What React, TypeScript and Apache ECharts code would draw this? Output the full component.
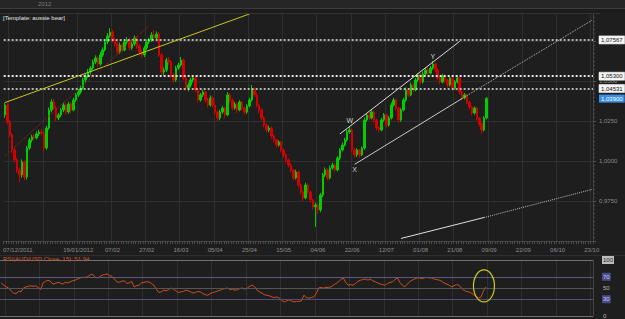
import React, { useEffect, useRef } from "react";
import * as echarts from "echarts";

// ---------- data ----------
const SLOT_COUNT = 241; // trading-day slots on the time axis
const FIRST_TICK = 2;
const TICK_EVERY = 14;
const dateTickLabels = [
  "07/12/2011", "", "19/01/2012", "07/02", "27/02", "16/03", "05/04", "25/04", "15/05",
  "04/06", "22/06", "12/07", "01/08", "21/08", "09/09", "22/09", "06/10", "23/10",
];

// [open, close, low, high]
const ohlc: number[][] = [
  [1.0288, 1.0350, 1.0270, 1.0365], [1.0350, 1.0244, 1.0230, 1.0362], [1.0244, 1.0163, 1.0150, 1.0256],
  [1.0163, 1.0069, 1.0050, 1.0175], [1.0069, 1.0006, 0.9990, 1.0085], [1.0006, 0.9944, 0.9925, 1.0020],
  [0.9944, 0.9913, 0.9869, 0.9960], [0.9913, 0.9994, 0.9895, 1.0010], [0.9994, 0.9900, 0.9880, 1.0005],
  [0.9900, 1.0081, 0.9885, 1.0095], [1.0081, 1.0131, 1.0070, 1.0145], [1.0131, 1.0150, 1.0115, 1.0165],
  [1.0150, 1.0144, 1.0130, 1.0170], [1.0144, 1.0169, 1.0135, 1.0185], [1.0169, 1.0181, 1.0155, 1.0195],
  [1.0181, 1.0175, 1.0160, 1.0200], [1.0175, 1.0081, 1.0060, 1.0190], [1.0081, 1.0206, 1.0070, 1.0220],
  [1.0206, 1.0319, 1.0195, 1.0335], [1.0319, 1.0369, 1.0305, 1.0385], [1.0369, 1.0331, 1.0320, 1.0390],
  [1.0331, 1.0269, 1.0250, 1.0345], [1.0269, 1.0288, 1.0255, 1.0300], [1.0288, 1.0319, 1.0275, 1.0330],
  [1.0319, 1.0350, 1.0305, 1.0365], [1.0350, 1.0306, 1.0290, 1.0362], [1.0306, 1.0356, 1.0295, 1.0370],
  [1.0356, 1.0319, 1.0300, 1.0368], [1.0319, 1.0381, 1.0310, 1.0395], [1.0381, 1.0413, 1.0370, 1.0425],
  [1.0413, 1.0431, 1.0400, 1.0450], [1.0431, 1.0456, 1.0420, 1.0470], [1.0456, 1.0506, 1.0445, 1.0520],
  [1.0506, 1.0531, 1.0490, 1.0545], [1.0531, 1.0556, 1.0520, 1.0575], [1.0556, 1.0581, 1.0540, 1.0595],
  [1.0581, 1.0619, 1.0570, 1.0635], [1.0619, 1.0644, 1.0605, 1.0660], [1.0644, 1.0606, 1.0590, 1.0655],
  [1.0606, 1.0663, 1.0595, 1.0680], [1.0663, 1.0694, 1.0650, 1.0710], [1.0694, 1.0744, 1.0685, 1.0760],
  [1.0744, 1.0781, 1.0730, 1.0800], [1.0781, 1.0806, 1.0770, 1.0831], [1.0806, 1.0756, 1.0740, 1.0820],
  [1.0756, 1.0731, 1.0715, 1.0770], [1.0731, 1.0681, 1.0665, 1.0745], [1.0681, 1.0725, 1.0670, 1.0740],
  [1.0725, 1.0694, 1.0680, 1.0735], [1.0694, 1.0744, 1.0685, 1.0760], [1.0744, 1.0756, 1.0730, 1.0775],
  [1.0756, 1.0706, 1.0690, 1.0770], [1.0706, 1.0731, 1.0695, 1.0745], [1.0731, 1.0769, 1.0720, 1.0785],
  [1.0769, 1.0719, 1.0700, 1.0780], [1.0719, 1.0681, 1.0665, 1.0730], [1.0681, 1.0663, 1.0645, 1.0695],
  [1.0663, 1.0706, 1.0650, 1.0720], [1.0706, 1.0744, 1.0695, 1.0760], [1.0744, 1.0756, 1.0730, 1.0770],
  [1.0756, 1.0788, 1.0745, 1.0805], [1.0788, 1.0769, 1.0755, 1.0819], [1.0769, 1.0794, 1.0760, 1.0810],
  [1.0794, 1.0663, 1.0650, 1.0805], [1.0663, 1.0556, 1.0540, 1.0675], [1.0556, 1.0569, 1.0535, 1.0585],
  [1.0569, 1.0631, 1.0555, 1.0645], [1.0631, 1.0619, 1.0600, 1.0650], [1.0619, 1.0538, 1.0520, 1.0630],
  [1.0538, 1.0506, 1.0490, 1.0550], [1.0506, 1.0581, 1.0495, 1.0595], [1.0581, 1.0600, 1.0570, 1.0615],
  [1.0600, 1.0631, 1.0590, 1.0650], [1.0631, 1.0519, 1.0505, 1.0640], [1.0519, 1.0456, 1.0440, 1.0530],
  [1.0456, 1.0475, 1.0435, 1.0490], [1.0475, 1.0506, 1.0460, 1.0520], [1.0506, 1.0519, 1.0490, 1.0535],
  [1.0519, 1.0444, 1.0430, 1.0530], [1.0444, 1.0381, 1.0365, 1.0455], [1.0381, 1.0413, 1.0370, 1.0425],
  [1.0413, 1.0431, 1.0400, 1.0445], [1.0431, 1.0381, 1.0365, 1.0440], [1.0381, 1.0350, 1.0335, 1.0395],
  [1.0350, 1.0394, 1.0340, 1.0410], [1.0394, 1.0350, 1.0335, 1.0405], [1.0350, 1.0306, 1.0290, 1.0360],
  [1.0306, 1.0269, 1.0250, 1.0315], [1.0269, 1.0306, 1.0255, 1.0320], [1.0306, 1.0331, 1.0295, 1.0345],
  [1.0331, 1.0288, 1.0270, 1.0340], [1.0288, 1.0413, 1.0280, 1.0430], [1.0413, 1.0381, 1.0365, 1.0425],
  [1.0381, 1.0331, 1.0315, 1.0390], [1.0331, 1.0356, 1.0320, 1.0370], [1.0356, 1.0319, 1.0300, 1.0365],
  [1.0319, 1.0369, 1.0310, 1.0380], [1.0369, 1.0331, 1.0315, 1.0375], [1.0331, 1.0306, 1.0290, 1.0340],
  [1.0306, 1.0344, 1.0295, 1.0355], [1.0344, 1.0381, 1.0335, 1.0395], [1.0381, 1.0444, 1.0370, 1.0475],
  [1.0444, 1.0413, 1.0400, 1.0460], [1.0413, 1.0350, 1.0335, 1.0425], [1.0350, 1.0319, 1.0300, 1.0360],
  [1.0319, 1.0269, 1.0255, 1.0330], [1.0269, 1.0225, 1.0210, 1.0280], [1.0225, 1.0194, 1.0180, 1.0235],
  [1.0194, 1.0206, 1.0180, 1.0220], [1.0206, 1.0156, 1.0140, 1.0215], [1.0156, 1.0131, 1.0115, 1.0165],
  [1.0131, 1.0100, 1.0085, 1.0140], [1.0100, 1.0119, 1.0090, 1.0130], [1.0119, 1.0069, 1.0055, 1.0125],
  [1.0069, 1.0038, 1.0020, 1.0080], [1.0038, 1.0006, 0.9990, 1.0045], [1.0006, 0.9975, 0.9960, 1.0015],
  [0.9975, 0.9944, 0.9930, 0.9985], [0.9944, 0.9894, 0.9880, 0.9950], [0.9894, 0.9931, 0.9885, 0.9945],
  [0.9931, 0.9850, 0.9835, 0.9940], [0.9850, 0.9806, 0.9790, 0.9860], [0.9806, 0.9769, 0.9750, 0.9815],
  [0.9769, 0.9850, 0.9760, 0.9865], [0.9850, 0.9806, 0.9795, 0.9860], [0.9806, 0.9756, 0.9740, 0.9815],
  [0.9756, 0.9713, 0.9695, 0.9765], [0.9713, 0.9725, 0.9588, 0.9740], [0.9725, 0.9694, 0.9670, 0.9735],
  [0.9694, 0.9788, 0.9680, 0.9800], [0.9788, 0.9913, 0.9775, 0.9925], [0.9913, 0.9944, 0.9900, 0.9960],
  [0.9944, 0.9894, 0.9880, 0.9955], [0.9894, 0.9956, 0.9885, 0.9970], [0.9956, 0.9975, 0.9945, 0.9990],
  [0.9975, 0.9944, 0.9930, 0.9985], [0.9944, 1.0019, 0.9935, 1.0030], [1.0019, 1.0069, 1.0005, 1.0080],
  [1.0069, 1.0100, 1.0060, 1.0115], [1.0100, 1.0131, 1.0090, 1.0145], [1.0131, 1.0181, 1.0120, 1.0195],
  [1.0181, 1.0194, 1.0170, 1.0215], [1.0194, 1.0069, 1.0055, 1.0205], [1.0069, 1.0038, 1.0020, 1.0080],
  [1.0038, 1.0069, 1.0025, 1.0080], [1.0069, 1.0038, 1.0020, 1.0075], [1.0038, 1.0081, 1.0030, 1.0090],
  [1.0081, 1.0256, 1.0070, 1.0270], [1.0256, 1.0288, 1.0245, 1.0300], [1.0288, 1.0269, 1.0255, 1.0305],
  [1.0269, 1.0306, 1.0260, 1.0320], [1.0306, 1.0256, 1.0240, 1.0315], [1.0256, 1.0206, 1.0190, 1.0265],
  [1.0206, 1.0194, 1.0180, 1.0215], [1.0194, 1.0256, 1.0185, 1.0270], [1.0256, 1.0288, 1.0245, 1.0300],
  [1.0288, 1.0225, 1.0210, 1.0295], [1.0225, 1.0269, 1.0215, 1.0280], [1.0269, 1.0350, 1.0260, 1.0365],
  [1.0350, 1.0381, 1.0340, 1.0395], [1.0381, 1.0331, 1.0315, 1.0390], [1.0331, 1.0256, 1.0240, 1.0340],
  [1.0256, 1.0319, 1.0245, 1.0330], [1.0319, 1.0381, 1.0310, 1.0395], [1.0381, 1.0444, 1.0370, 1.0460],
  [1.0444, 1.0413, 1.0400, 1.0455], [1.0413, 1.0475, 1.0405, 1.0490], [1.0475, 1.0444, 1.0430, 1.0485],
  [1.0444, 1.0506, 1.0435, 1.0520], [1.0506, 1.0538, 1.0495, 1.0550], [1.0538, 1.0494, 1.0480, 1.0550],
  [1.0494, 1.0544, 1.0485, 1.0560], [1.0544, 1.0569, 1.0535, 1.0585], [1.0569, 1.0550, 1.0540, 1.0590],
  [1.0550, 1.0581, 1.0540, 1.0595], [1.0581, 1.0606, 1.0570, 1.0625], [1.0606, 1.0569, 1.0555, 1.0615],
  [1.0569, 1.0519, 1.0505, 1.0580], [1.0519, 1.0494, 1.0480, 1.0530], [1.0494, 1.0531, 1.0485, 1.0545],
  [1.0531, 1.0506, 1.0490, 1.0540], [1.0506, 1.0475, 1.0460, 1.0515], [1.0475, 1.0519, 1.0465, 1.0530],
  [1.0519, 1.0456, 1.0440, 1.0525], [1.0456, 1.0494, 1.0445, 1.0505], [1.0494, 1.0519, 1.0485, 1.0530],
  [1.0519, 1.0431, 1.0415, 1.0525], [1.0431, 1.0394, 1.0380, 1.0440], [1.0394, 1.0413, 1.0385, 1.0425],
  [1.0413, 1.0369, 1.0355, 1.0420], [1.0369, 1.0338, 1.0320, 1.0375], [1.0338, 1.0300, 1.0285, 1.0345],
  [1.0300, 1.0331, 1.0290, 1.0340], [1.0331, 1.0269, 1.0255, 1.0335], [1.0269, 1.0231, 1.0215, 1.0275],
  [1.0231, 1.0194, 1.0169, 1.0240], [1.0194, 1.0269, 1.0185, 1.0280], [1.0269, 1.0390, 1.0260, 1.0400],
];

const rsi: number[] = [
  59, 55, 52, 50, 45, 41, 40, 44, 43, 50, 52, 53, 54, 53, 54, 51, 47, 59, 62, 64,
  62, 57, 58, 60, 59, 57, 60, 59, 61, 63, 64, 66, 68, 69, 69, 70, 73, 75, 70, 68,
  70, 73, 74, 75, 72, 71, 66, 61, 60, 62, 63, 58, 59, 62, 52, 54, 55, 59, 60, 61,
  61, 58, 55, 48, 42, 43, 46, 45, 47, 50, 48, 45, 42, 43, 44, 46, 45, 43, 41, 42,
  44, 43, 40, 38, 37, 40, 42, 43, 45, 46, 48, 49, 50, 47, 48, 46, 47, 49, 50, 48,
  50, 53, 55, 52, 46, 43, 41, 38, 37, 36, 34, 33, 34, 32, 28, 25, 27, 29, 27, 25,
  26, 26, 27, 37, 33, 32, 33, 34, 40, 50, 51, 50, 51, 51, 52, 55, 58, 61, 65, 68,
  60, 55, 56, 55, 58, 62, 64, 65, 66, 64, 66, 63, 61, 59, 57, 56, 55, 58, 60, 61,
  65, 68, 60, 55, 52, 57, 61, 64, 66, 68, 68, 67, 68, 69, 68, 68, 66, 65, 64, 62,
  59, 57, 55, 52, 54, 56, 55, 50, 46, 44, 43, 41, 38, 35, 32, 34, 45, 51.94,
];

const hLevels = [1.07567, 1.053, 1.04531];
const rsiLevels = [100, 70, 50, 30, 0];
const rsiLevelColors = ["#6e6e6e", "#5a5a7e", "#555555", "#4e4e78", "#6e6e6e"];

// trend lines: [startIndex, startPrice], [endIndex, endPrice]
const trendLines = [
  { a: [0, 1.0365], b: [100, 1.0919], color: "#c8c81e", type: "solid", width: 1 },
  { a: [0, 1.0032], b: [59, 1.0847], color: "#a81c1c", type: "dotted", width: 1 },
  { a: [137, 1.0169], b: [186, 1.0748], color: "#d8d8d8", type: "solid", width: 1 },
  { a: [143, 0.9979], b: [187, 1.0391], color: "#c8c8c8", type: "solid", width: 1 },
  { a: [187, 1.0391], b: [240, 1.0879], color: "#bdbdbd", type: "dotted", width: 1 },
  { a: [162, 0.9516], b: [196, 0.9647], color: "#e0e0e0", type: "solid", width: 1 },
  { a: [196, 0.9647], b: [240, 0.9822], color: "#bdbdbd", type: "dotted", width: 1 },
];

const waveLabels = [
  { name: "W", at: [141, 1.0256] },
  { name: "X", at: [143, 0.9944] },
  { name: "Y", at: [175, 1.0656] },
];

const FONT = "Liberation Sans, Arial, sans-serif";
const fmt5 = (v: number) => v.toFixed(5).replace(".", ",");
const fmt4 = (v: number) => v.toFixed(4).replace(".", ",");

export default function App() {
  const ref = useRef<HTMLDivElement>(null);
  useEffect(() => {
    document.body.style.margin = "0";
    document.body.style.background = "#1e1e1e";
    const chart = echarts.init(ref.current!, undefined, { renderer: "svg" });
    const cats = Array.from({ length: SLOT_COUNT }, (_, i) => String(i));
    const isTick = (i: number) => i >= FIRST_TICK && (i - FIRST_TICK) % TICK_EVERY === 0;
    const lastClose = ohlc[ohlc.length - 1][1];
    const lastRsi = rsi[rsi.length - 1];

    const priceMarkLines: any[] = [];
    hLevels.forEach((v, k) => {
      priceMarkLines.push({
        yAxis: v,
        lineStyle: { color: "#e6e6e6", type: [2, 2], width: k === 1 ? 2 : 1.5 },
        label: {
          show: true, position: "end", distance: 6, formatter: () => fmt5(v),
          backgroundColor: "#f4f4f4", color: "#111", padding: [1, 2], fontSize: 6,
          fontFamily: FONT, borderColor: "#999", borderWidth: 0.5,
        },
      });
    });
    priceMarkLines.push({
      yAxis: lastClose,
      lineStyle: { color: "rgba(0,0,0,0)", width: 1 },
      label: {
        show: true, position: "end", distance: 6, formatter: () => fmt5(lastClose),
        backgroundColor: "#3a8fe4", color: "#ffffff", padding: [1, 2], fontSize: 6, fontFamily: FONT,
      },
    });
    trendLines.forEach((t) => {
      priceMarkLines.push([
        { coord: t.a, lineStyle: { color: t.color, type: t.type, width: t.width }, label: { show: false } },
        { coord: t.b },
      ]);
    });

    const rsiMarkLines = rsiLevels.map((v, k) => {
      const boxed = v === 70 || v === 30;
      const light = v === 100;
      return {
        yAxis: v,
        lineStyle: { color: rsiLevelColors[k], type: "solid", width: 1 },
        label: {
          show: true, position: "end", distance: 9, formatter: () => String(v),
          fontSize: 6, fontFamily: FONT,
          color: light ? "#222" : boxed ? "#c8c8f0" : "#bbbbbb",
          backgroundColor: light ? "#bdbdbd" : boxed ? "#4a4a8e" : "transparent",
          padding: [1, 1],
        },
      };
    });

    const baseGraphic: any[] = [
      { type: "rect", id: "topband", shape: { x: 0, y: 0, width: 625, height: 8 }, style: { fill: "#262626" }, z: 100, silent: true },
      { type: "rect", id: "topband2", shape: { x: 0, y: 8, width: 625, height: 5 }, style: { fill: "#1c1c1c" }, z: 100, silent: true },
      { type: "line", id: "topline", shape: { x1: 0, y1: 8.5, x2: 625, y2: 8.5 }, style: { stroke: "#3c3c3c", lineWidth: 1 }, z: 101, silent: true },
      { type: "line", id: "topline2", shape: { x1: 0, y1: 13.5, x2: 600, y2: 13.5 }, style: { stroke: "#333333", lineWidth: 1 }, z: 101, silent: true },
      { type: "text", id: "year", x: 38, y: 1, style: { text: "2012", fill: "#7a7a7a", fontSize: 6, fontFamily: FONT }, z: 102, silent: true },
      { type: "text", id: "tpl", x: 3, y: 14.5, style: { text: "[Template: aussie bear]", fill: "#e4e4e4", fontSize: 6, fontFamily: FONT }, z: 102, silent: true },
      { type: "line", id: "sep", shape: { x1: 0, y1: 255.5, x2: 625, y2: 255.5 }, style: { stroke: "#2e2e2e", lineWidth: 1 }, z: 5, silent: true },
      { type: "text", id: "rsititle", x: 3, y: 255.5, style: { text: `RSI(AUD/USD.Close, 15): ${lastRsi.toFixed(2)}`, fill: "#cc5a2a", fontSize: 6, fontFamily: FONT }, z: 102, silent: true },
    ];

    const option: any = {
      animation: false,
      backgroundColor: "#1e1e1e",
      textStyle: { fontFamily: FONT },
      grid: [
        { left: 0, right: 32, top: 1, height: 240, containLabel: false },
        { left: 0, right: 32, top: 260, height: 56, containLabel: false },
      ],
      xAxis: [
        {
          type: "category", gridIndex: 0, data: cats, boundaryGap: true,
          axisLine: { show: true, lineStyle: { color: "#444444", width: 1 } },
          axisTick: { show: true, interval: 0, length: 3, lineStyle: { color: "#4a4a4a" } },
          axisLabel: {
            show: true, interval: (i: number) => isTick(i), margin: 6, fontSize: 6, color: "#8c8c8c", fontFamily: FONT,
            formatter: (_v: string, i: number) => {
              const k = (i - FIRST_TICK) / TICK_EVERY;
              const s = dateTickLabels[k] || "";
              return k === 0 ? `{first|${s}}` : s;
            },
            rich: { first: { padding: [0, 0, 0, 16], fontSize: 6, color: "#8c8c8c", fontFamily: FONT } },
          },
          splitLine: { show: true, interval: (i: number) => isTick(i), lineStyle: { color: "#2f2f2f", width: 1 } },
        },
        {
          type: "category", gridIndex: 1, data: cats, boundaryGap: true,
          axisLine: { show: false }, axisTick: { show: false }, axisLabel: { show: false },
          splitLine: { show: true, interval: (i: number) => isTick(i), lineStyle: { color: "#2f2f2f", width: 1 } },
        },
      ],
      yAxis: [
        {
          type: "value", gridIndex: 0, position: "right", min: 0.95, max: 1.1, interval: 0.025,
          axisLine: { show: true, lineStyle: { color: "#444444" } },
          axisTick: { show: true, length: 3, lineStyle: { color: "#555555" } },
          minorTick: { show: true, splitNumber: 10, length: 2, lineStyle: { color: "#4a4a4a" } },
          axisLabel: {
            show: true, margin: 6, fontSize: 6, color: "#8c8c8c", fontFamily: FONT,
            // labels above 1,06 sit under the level boxes in the reference
            formatter: (v: number) => (v < 0.96 || v > 1.06 ? "" : fmt4(v)),
          },
          splitLine: { show: true, lineStyle: { color: "#2f2f2f", width: 1 } },
        },
        {
          type: "value", gridIndex: 1, position: "right", min: 0, max: 100,
          axisLine: { show: true, lineStyle: { color: "#444444" } },
          axisTick: { show: false }, axisLabel: { show: false }, splitLine: { show: false },
        },
      ],
      series: [
        {
          type: "candlestick", xAxisIndex: 0, yAxisIndex: 0, data: ohlc, barWidth: 2,
          itemStyle: { color: "#00cc00", color0: "#d40000", borderColor: "#00cc00", borderColor0: "#d40000", borderWidth: 1 },
          markLine: { symbol: ["none", "none"], silent: true, animation: false, precision: 6, data: priceMarkLines },
          markPoint: {
            silent: true, symbol: "circle", symbolSize: 1, itemStyle: { color: "rgba(0,0,0,0)" },
            label: { show: true, position: "inside", color: "#cfcfcf", fontSize: 7, fontFamily: FONT },
            data: waveLabels.map((w) => ({ coord: w.at, value: w.name, label: { formatter: w.name } })),
          },
          z: 3,
        },
        {
          type: "line", xAxisIndex: 1, yAxisIndex: 1, data: rsi, symbol: "none", showSymbol: false,
          lineStyle: { color: "#cf4f1c", width: 1 },
          markLine: { symbol: ["none", "none"], silent: true, animation: false, precision: 4, data: rsiMarkLines },
          z: 3,
        },
      ],
      graphic: baseGraphic,
    };
    chart.setOption(option);
    const p = chart.convertToPixel({ xAxisIndex: 1, yAxisIndex: 1 } as any, [rsi.length - 1, lastRsi]) as number[];
    if (p && isFinite(p[0])) {
      chart.setOption({
        graphic: [
          ...baseGraphic,
          { type: "ellipse", id: "ring", shape: { cx: p[0] - 2, cy: p[1] - 1, rx: 10.5, ry: 16 }, style: { fill: "none", stroke: "#cccc1e", lineWidth: 1.2 }, z: 103, silent: true },
        ],
      });
    }
    return () => chart.dispose();
  }, []);
  return <div ref={ref} style={{ position: "fixed", left: 0, top: 0, width: 625, height: 319 }} />;
}
